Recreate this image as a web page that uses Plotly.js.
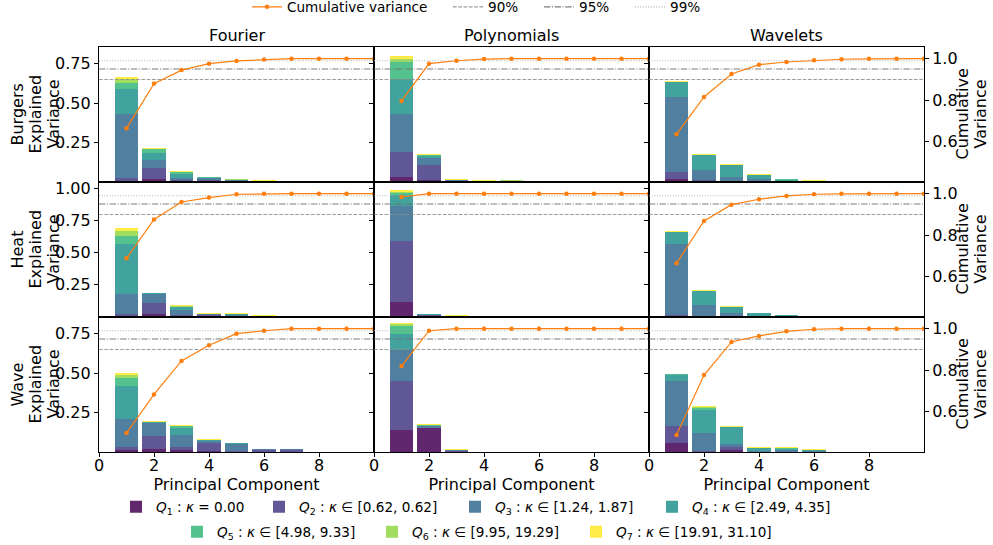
<!DOCTYPE html>
<html><head><meta charset="utf-8">
<script src="https://cdn.plot.ly/plotly-3.0.1.min.js"></script>
<style>html,body{margin:0;padding:0;background:#fff}#chart{width:993px;height:545px}</style>
</head><body><div id="chart"></div>
<script>
// ---------------- data ----------------
const PC = [1, 2, 3, 4, 5, 6, 7, 8, 9, 10];
const PDES = ['Burgers', 'Heat', 'Wave'];
const BASES = ['Fourier', 'Polynomials', 'Wavelets'];
const QUANTILE_LABELS = [
  '<i>Q</i><sub>1</sub> : <i>κ</i> = 0.00',
  '<i>Q</i><sub>2</sub> : <i>κ</i> ∈ [0.62, 0.62]',
  '<i>Q</i><sub>3</sub> : <i>κ</i> ∈ [1.24, 1.87]',
  '<i>Q</i><sub>4</sub> : <i>κ</i> ∈ [2.49, 4.35]',
  '<i>Q</i><sub>5</sub> : <i>κ</i> ∈ [4.98, 9.33]',
  '<i>Q</i><sub>6</sub> : <i>κ</i> ∈ [9.95, 19.29]',
  '<i>Q</i><sub>7</sub> : <i>κ</i> ∈ [19.91, 31.10]'
];
const QUANTILE_COLORS = ['#60276e', '#605796', '#507f9f', '#42a29d', '#53c28d', '#a1dd5f', '#fdeb46'];
const THRESHOLDS = [0.90, 0.95, 0.99];
const THRESHOLD_LABELS = ['90%', '95%', '99%'];

// explained variance ratio per principal component, one row per quantile Q1..Q7
const BURGERS_FOURIER = [
  [0.005, 0.016, 0.006, 0.004, 0.003, 0.001, 0.000, 0.000, 0.000, 0.000],
  [0.023, 0.074, 0.008, 0.008, 0.006, 0.003, 0.000, 0.000, 0.000, 0.000],
  [0.405, 0.049, 0.010, 0.012, 0.004, 0.004, 0.001, 0.000, 0.000, 0.000],
  [0.155, 0.046, 0.028, 0.004, 0.001, 0.001, 0.000, 0.000, 0.000, 0.000],
  [0.042, 0.023, 0.010, 0.002, 0.001, 0.000, 0.000, 0.000, 0.000, 0.000],
  [0.021, 0.004, 0.004, 0.001, 0.001, 0.000, 0.000, 0.000, 0.000, 0.000],
  [0.017, 0.005, 0.005, 0.003, 0.003, 0.002, 0.003, 0.003, 0.003, 0.003]
];
const BURGERS_POLYNOMIALS = [
  [0.029, 0.012, 0.002, 0.001, 0.001, 0.000, 0.000, 0.000, 0.000, 0.000],
  [0.162, 0.095, 0.006, 0.003, 0.001, 0.000, 0.000, 0.000, 0.000, 0.000],
  [0.243, 0.045, 0.004, 0.004, 0.001, 0.000, 0.000, 0.000, 0.000, 0.000],
  [0.218, 0.012, 0.001, 0.001, 0.002, 0.000, 0.000, 0.000, 0.000, 0.000],
  [0.112, 0.007, 0.001, 0.000, 0.004, 0.000, 0.000, 0.000, 0.000, 0.000],
  [0.019, 0.002, 0.001, 0.000, 0.001, 0.000, 0.000, 0.000, 0.000, 0.000],
  [0.017, 0.004, 0.004, 0.002, 0.003, 0.003, 0.003, 0.003, 0.003, 0.003]
];
const BURGERS_WAVELETS = [
  [0.022, 0.004, 0.003, 0.002, 0.001, 0.000, 0.000, 0.000, 0.000, 0.000],
  [0.043, 0.006, 0.005, 0.004, 0.001, 0.001, 0.000, 0.000, 0.000, 0.000],
  [0.475, 0.065, 0.025, 0.010, 0.003, 0.002, 0.000, 0.000, 0.000, 0.000],
  [0.095, 0.095, 0.076, 0.028, 0.010, 0.005, 0.000, 0.000, 0.000, 0.000],
  [0.002, 0.002, 0.001, 0.001, 0.001, 0.000, 0.000, 0.000, 0.000, 0.000],
  [0.001, 0.001, 0.001, 0.001, 0.000, 0.000, 0.000, 0.000, 0.000, 0.000],
  [0.005, 0.004, 0.004, 0.004, 0.004, 0.003, 0.003, 0.003, 0.003, 0.003]
];
const HEAT_FOURIER = [
  [0.006, 0.020, 0.005, 0.004, 0.002, 0.000, 0.000, 0.000, 0.000, 0.000],
  [0.014, 0.086, 0.008, 0.012, 0.004, 0.002, 0.003, 0.000, 0.000, 0.000],
  [0.156, 0.076, 0.045, 0.006, 0.012, 0.004, 0.002, 0.000, 0.000, 0.000],
  [0.390, 0.002, 0.017, 0.002, 0.006, 0.000, 0.000, 0.000, 0.000, 0.000],
  [0.067, 0.001, 0.006, 0.000, 0.000, 0.000, 0.000, 0.000, 0.000, 0.000],
  [0.037, 0.001, 0.002, 0.000, 0.000, 0.000, 0.000, 0.000, 0.000, 0.000],
  [0.026, 0.004, 0.007, 0.005, 0.005, 0.006, 0.006, 0.001, 0.001, 0.001]
];
const HEAT_POLYNOMIALS = [
  [0.114, 0.010, 0.000, 0.000, 0.000, 0.000, 0.000, 0.000, 0.000, 0.000],
  [0.478, 0.004, 0.002, 0.000, 0.000, 0.000, 0.000, 0.000, 0.000, 0.000],
  [0.269, 0.004, 0.002, 0.000, 0.000, 0.000, 0.000, 0.000, 0.000, 0.000],
  [0.091, 0.002, 0.000, 0.000, 0.000, 0.000, 0.000, 0.000, 0.000, 0.000],
  [0.014, 0.000, 0.000, 0.000, 0.000, 0.000, 0.000, 0.000, 0.000, 0.000],
  [0.007, 0.000, 0.000, 0.000, 0.000, 0.000, 0.000, 0.000, 0.000, 0.000],
  [0.013, 0.007, 0.008, 0.001, 0.001, 0.001, 0.001, 0.001, 0.001, 0.001]
];
const HEAT_WAVELETS = [
  [0.006, 0.002, 0.002, 0.001, 0.000, 0.000, 0.000, 0.000, 0.000, 0.000],
  [0.006, 0.003, 0.002, 0.002, 0.001, 0.000, 0.000, 0.000, 0.000, 0.000],
  [0.554, 0.091, 0.026, 0.006, 0.008, 0.000, 0.000, 0.000, 0.000, 0.000],
  [0.094, 0.104, 0.046, 0.022, 0.006, 0.000, 0.000, 0.000, 0.000, 0.000],
  [0.002, 0.001, 0.001, 0.000, 0.000, 0.000, 0.000, 0.000, 0.000, 0.000],
  [0.001, 0.001, 0.001, 0.000, 0.000, 0.000, 0.000, 0.000, 0.000, 0.000],
  [0.007, 0.006, 0.004, 0.004, 0.004, 0.004, 0.004, 0.004, 0.004, 0.001]
];
const WAVE_FOURIER = [
  [0.011, 0.021, 0.010, 0.004, 0.002, 0.003, 0.002, 0.000, 0.000, 0.000],
  [0.018, 0.082, 0.023, 0.050, 0.003, 0.012, 0.008, 0.000, 0.000, 0.000],
  [0.178, 0.083, 0.072, 0.019, 0.043, 0.002, 0.006, 0.000, 0.000, 0.000],
  [0.214, 0.002, 0.049, 0.002, 0.006, 0.001, 0.001, 0.000, 0.000, 0.000],
  [0.047, 0.001, 0.008, 0.001, 0.002, 0.000, 0.000, 0.000, 0.000, 0.000],
  [0.019, 0.001, 0.002, 0.001, 0.001, 0.000, 0.000, 0.000, 0.000, 0.000],
  [0.017, 0.004, 0.005, 0.003, 0.003, 0.004, 0.005, 0.003, 0.003, 0.003]
];
const WAVE_POLYNOMIALS = [
  [0.137, 0.150, 0.002, 0.000, 0.000, 0.000, 0.000, 0.000, 0.000, 0.000],
  [0.312, 0.004, 0.004, 0.000, 0.000, 0.000, 0.000, 0.000, 0.000, 0.000],
  [0.197, 0.009, 0.006, 0.000, 0.000, 0.000, 0.000, 0.000, 0.000, 0.000],
  [0.106, 0.004, 0.002, 0.000, 0.000, 0.000, 0.000, 0.000, 0.000, 0.000],
  [0.046, 0.002, 0.000, 0.000, 0.000, 0.000, 0.000, 0.000, 0.000, 0.000],
  [0.013, 0.001, 0.000, 0.000, 0.000, 0.000, 0.000, 0.000, 0.000, 0.000],
  [0.011, 0.005, 0.006, 0.003, 0.003, 0.003, 0.003, 0.003, 0.003, 0.003]
];
const WAVE_WAVELETS = [
  [0.060, 0.002, 0.015, 0.001, 0.000, 0.000, 0.000, 0.000, 0.000, 0.000],
  [0.102, 0.003, 0.017, 0.002, 0.001, 0.002, 0.000, 0.000, 0.000, 0.000],
  [0.288, 0.113, 0.020, 0.006, 0.012, 0.004, 0.000, 0.000, 0.000, 0.000],
  [0.041, 0.150, 0.104, 0.019, 0.008, 0.006, 0.000, 0.000, 0.000, 0.000],
  [0.002, 0.012, 0.002, 0.000, 0.003, 0.000, 0.000, 0.000, 0.000, 0.000],
  [0.001, 0.004, 0.001, 0.000, 0.000, 0.000, 0.000, 0.000, 0.000, 0.000],
  [0.003, 0.007, 0.003, 0.005, 0.005, 0.004, 0.003, 0.003, 0.003, 0.003]
];

// cumulative explained variance per principal component
const BURGERS_FOURIER_CUM     = [0.665, 0.880, 0.945, 0.976, 0.989, 0.996, 1.000, 1.000, 1.000, 1.000];
const BURGERS_POLYNOMIALS_CUM = [0.797, 0.976, 0.990, 0.998, 1.000, 1.000, 1.000, 1.000, 1.000, 1.000];
const BURGERS_WAVELETS_CUM    = [0.636, 0.816, 0.926, 0.971, 0.984, 0.992, 0.997, 0.999, 1.000, 1.000];
const HEAT_FOURIER_CUM        = [0.689, 0.876, 0.960, 0.981, 0.997, 1.000, 1.000, 1.000, 1.000, 1.000];
const HEAT_POLYNOMIALS_CUM    = [0.984, 1.000, 1.000, 1.000, 1.000, 1.000, 1.000, 1.000, 1.000, 1.000];
const HEAT_WAVELETS_CUM       = [0.665, 0.869, 0.947, 0.973, 0.989, 0.997, 0.999, 1.000, 1.000, 1.000];
const WAVE_FOURIER_CUM        = [0.498, 0.684, 0.845, 0.920, 0.976, 0.990, 1.000, 1.000, 1.000, 1.000];
const WAVE_POLYNOMIALS_CUM    = [0.820, 0.990, 1.000, 1.000, 1.000, 1.000, 1.000, 1.000, 1.000, 1.000];
const WAVE_WAVELETS_CUM       = [0.489, 0.777, 0.936, 0.965, 0.987, 0.997, 1.000, 1.000, 1.000, 1.000];

const X_TICKS = [0, 2, 4, 6, 8];
const LEFT_TICKS = [[0.25, 0.50, 0.75], [0.25, 0.50, 0.75, 1.00], [0.25, 0.50, 0.75]];
const RIGHT_TICKS = [0.6, 0.8, 1.0];

// ---------------- layout helpers ----------------
const PANEL_BARS = [
  [BURGERS_FOURIER, BURGERS_POLYNOMIALS, BURGERS_WAVELETS],
  [HEAT_FOURIER, HEAT_POLYNOMIALS, HEAT_WAVELETS],
  [WAVE_FOURIER, WAVE_POLYNOMIALS, WAVE_WAVELETS]
];
const PANEL_CUM = [
  [BURGERS_FOURIER_CUM, BURGERS_POLYNOMIALS_CUM, BURGERS_WAVELETS_CUM],
  [HEAT_FOURIER_CUM, HEAT_POLYNOMIALS_CUM, HEAT_WAVELETS_CUM],
  [WAVE_FOURIER_CUM, WAVE_POLYNOMIALS_CUM, WAVE_WAVELETS_CUM]
];

const FONT = 'DejaVu Sans, Liberation Sans, sans-serif';
const X_RANGE = [0, 10];
const LEFT_RANGES = [[0, 0.857], [0, 1.05], [0, 0.857]];
const RIGHT_RANGE = [0.407, 1.056];
const ML = 99, MR = 69, MT = 47, MB = 93, W = 993, H = 545;
const PW = W - ML - MR, PH = H - MT - MB;
const px2x = p => (p - ML) / PW;
const px2y = p => (H - MB - p) / PH;

const THR_STYLES = [
  {color: 'rgba(140,140,140,0.85)', dash: '3.7px,1.6px', width: 1.1},
  {color: 'rgba(110,110,110,0.9)', dash: '6.4px,1.6px,1px,1.6px', width: 1.1},
  {color: 'rgba(160,160,160,0.8)', dash: '1px,1.65px', width: 1.1}
];

const traces = [];
const layout = {
  width: W, height: H,
  margin: {l: ML, r: MR, t: MT, b: MB, autoexpand: false},
  paper_bgcolor: '#ffffff', plot_bgcolor: 'rgba(0,0,0,0)',
  font: {family: FONT, size: 16, color: '#000'},
  barmode: 'stack',
  showlegend: true,
  hovermode: false,
  annotations: [],
  shapes: []
};

for (let r = 0; r < 3; r++) {
  for (let c = 0; c < 3; c++) {
    const k = r * 3 + c + 1;
    const xn = k === 1 ? 'x' : 'x' + k;
    const yn = k === 1 ? 'y' : 'y' + k;
    const yr = 'y' + (k + 9);
    const xa = k === 1 ? 'xaxis' : 'xaxis' + k;
    const ya = k === 1 ? 'yaxis' : 'yaxis' + k;
    const yra = 'yaxis' + (k + 9);
    const dom = [[2 / 3, 1], [1 / 3, 2 / 3], [0, 1 / 3]][r];
    layout[xa] = {
      domain: [c / 3, (c + 1) / 3], anchor: yn, range: X_RANGE,
      tickmode: 'array', tickvals: X_TICKS, ticktext: X_TICKS.map(String),
      showticklabels: r === 2, ticks: r === 2 ? 'outside' : '', ticklen: 4, tickwidth: 1, tickcolor: '#000',
      ticklabelstandoff: -5,
      showline: true, mirror: true, linecolor: '#000', linewidth: 1.2,
      showgrid: false, zeroline: false, fixedrange: true,
      tickfont: {family: FONT, size: 16, color: '#000'},
      title: r === 2 ? {text: 'Principal Component', font: {family: FONT, size: 16, color: '#000'}, standoff: 0} : {text: ''}
    };
    layout[ya] = {
      domain: dom, anchor: xn, range: LEFT_RANGES[r],
      tickmode: 'array', tickvals: LEFT_TICKS[r], ticktext: LEFT_TICKS[r].map(v => v.toFixed(2)),
      showticklabels: c === 0, ticks: 'outside', ticklen: 4, tickwidth: 1, tickcolor: '#000',
      showline: true, mirror: true, linecolor: '#000', linewidth: 1.2,
      showgrid: false, zeroline: false, fixedrange: true,
      tickfont: {family: FONT, size: 16, color: '#000'}
    };
    layout[yra] = {
      overlaying: yn, side: 'right', anchor: xn, range: RIGHT_RANGE,
      tickmode: 'array', tickvals: RIGHT_TICKS, ticktext: RIGHT_TICKS.map(v => v.toFixed(1)),
      showticklabels: c === 2, ticks: c === 2 ? 'outside' : '', ticklen: 4, tickwidth: 1, tickcolor: '#000',
      showline: false, showgrid: false, zeroline: false, fixedrange: true,
      tickfont: {family: FONT, size: 16, color: '#000'}
    };

    const bars = PANEL_BARS[r][c];
    for (let q = 0; q < 7; q++) {
      traces.push({
        type: 'bar', x: PC, y: bars[q], xaxis: xn, yaxis: yn,
        width: 0.84, marker: {color: QUANTILE_COLORS[q], line: {width: 0}},
        name: QUANTILE_LABELS[q], showlegend: k === 1, legend: 'legend' + (q + 5),
        hoverinfo: 'skip'
      });
    }
    for (let t = 0; t < THRESHOLDS.length; t++) {
      traces.push({
        type: 'scatter', mode: 'lines', x: X_RANGE, y: [THRESHOLDS[t], THRESHOLDS[t]],
        xaxis: xn, yaxis: yr,
        line: {color: THR_STYLES[t].color, dash: THR_STYLES[t].dash, width: THR_STYLES[t].width},
        name: THRESHOLD_LABELS[t], showlegend: k === 1, legend: 'legend' + (t + 2),
        hoverinfo: 'skip'
      });
    }
    traces.push({
      type: 'scatter', mode: 'lines+markers', x: PC, y: PANEL_CUM[r][c],
      xaxis: xn, yaxis: yr,
      line: {color: '#ff7f0e', width: 1.2},
      marker: {color: '#ff7f0e', size: 4.5, symbol: 'circle'},
      name: 'Cumulative variance', showlegend: k === 1, legend: 'legend',
      hoverinfo: 'skip'
    });
  }
}

// column titles
BASES.forEach((b, c) => {
  layout.annotations.push({
    text: b, xref: 'paper', yref: 'paper', x: (c + 0.5) / 3, y: 1, xanchor: 'center', yanchor: 'bottom',
    showarrow: false, font: {family: FONT, size: 16, color: '#000'}
  });
});
// row labels (left) and right axis titles
const ROW_CENTER = [5 / 6, 0.5, 1 / 6];
PDES.forEach((p, r) => {
  [p, 'Explained', 'Variance'].forEach((line, i) => {
    layout.annotations.push({
      text: line, xref: 'paper', yref: 'paper', x: px2x([17, 35, 53][i]), y: ROW_CENTER[r],
      xanchor: 'center', yanchor: 'middle', textangle: -90, showarrow: false,
      font: {family: FONT, size: 16, color: '#000'}
    });
  });
  ['Cumulative', 'Variance'].forEach((line, i) => {
    layout.annotations.push({
      text: line, xref: 'paper', yref: 'paper', x: px2x([962, 980][i]), y: ROW_CENTER[r],
      xanchor: 'center', yanchor: 'middle', textangle: -90, showarrow: false,
      font: {family: FONT, size: 16, color: '#000'}
    });
  });
});

// legends: one per entry so that each sits where the reference puts it
const LEG_FONT = {family: FONT, size: 13.6, color: '#000'};
function legendAt(pxLeft, pyCenter) {
  return {orientation: 'h', x: px2x(pxLeft), xanchor: 'left', y: px2y(pyCenter), yanchor: 'middle',
          bgcolor: 'rgba(0,0,0,0)', borderwidth: 0, font: LEG_FONT, itemclick: false, itemdoubleclick: false};
}
layout.legend = legendAt(247, 7);
layout.legend2 = legendAt(448, 7);
layout.legend3 = legendAt(539, 7);
layout.legend4 = legendAt(630, 7);
layout.legend5 = legendAt(116, 507);
layout.legend6 = legendAt(259, 507);
layout.legend7 = legendAt(455, 507);
layout.legend8 = legendAt(652, 507);
layout.legend9 = legendAt(177, 532);
layout.legend10 = legendAt(372, 532);
layout.legend11 = legendAt(576, 532);

Plotly.newPlot('chart', traces, layout, {staticPlot: true, displayModeBar: false});
</script>
</body></html>
